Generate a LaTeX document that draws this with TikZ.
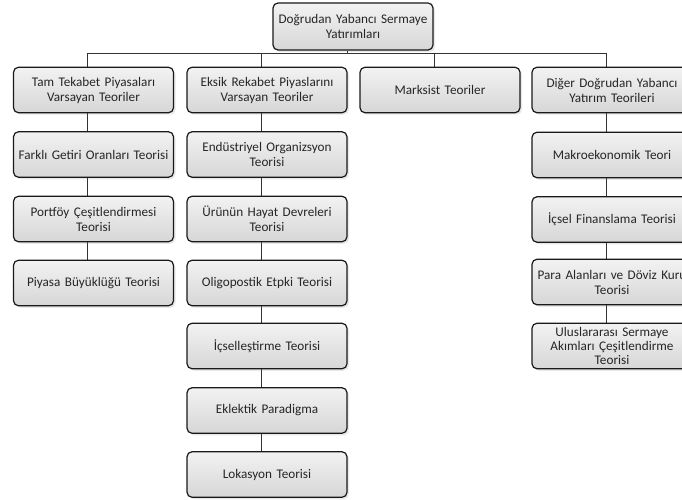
\documentclass[tikz,border=0pt]{standalone}
\usepackage{fontspec}
\setmainfont{Carlito}
\usetikzlibrary{shadows,backgrounds}
\begin{document}
\begin{tikzpicture}[x=1pt,y=-1pt,
  box/.style={draw=black!90, line width=1.2pt, rounded corners=5pt,
    top color=gray!10, bottom color=gray!32,
    drop shadow={opacity=0.18, shadow xshift=2pt, shadow yshift=-2pt},
    minimum width=160pt, minimum height=45.5pt, inner sep=0pt,
    text width=158pt, align=center, text=black!85,
    font=\fontsize{13.2pt}{15pt}\selectfont},
  conn/.style={draw=black!80, line width=1pt}]
\useasboundingbox (0,0) rectangle (682,500);
\node[box, minimum height=47pt] (root) at (353,26.5) {Doğrudan Yabancı Sermaye\\Yatırımları};
% level 1
\node[box] (tam) at (93.5,90) {Tam Tekabet Piyasaları\\Varsayan Teoriler};
\node[box] (eks) at (267,90) {Eksik Rekabet Piyaslarını\\Varsayan Teoriler};
\node[box] (mar) at (440,90) {Marksist Teoriler};
\node[box] (dig) at (612,90) {Diğer Doğrudan Yabancı\\Yatırım Teorileri};
% column 1
\node[box] (far) at (93.5,154.5) {Farklı Getiri Oranları Teorisi};
\node[box] (por) at (93.5,219) {Portföy Çeşitlendirmesi\\Teorisi};
\node[box] (pbt) at (93.5,283) {Piyasa Büyüklüğü Teorisi};
% column 2
\node[box] (end) at (267,154.5) {Endüstriyel Organizsyon\\Teorisi};
\node[box] (uru) at (267,219) {Ürünün Hayat Devreleri\\Teorisi};
\node[box] (oli) at (267,283) {Oligopostik Etpki Teorisi};
\node[box] (ics) at (267,346) {İçselleştirme Teorisi};
\node[box] (ekl) at (267,410.5) {Eklektik Paradigma};
\node[box] (lok) at (267,474.5) {Lokasyon Teorisi};
% column 4
\node[box] (mak) at (612,155) {Makroekonomik Teori};
\node[box] (icf) at (612,219.5) {İçsel Finanslama Teorisi};
\node[box] (par) at (612,282) {Para Alanları ve Döviz Kuru\\Teorisi};
\node[box, font=\fontsize{13.2pt}{13.6pt}\selectfont] (ulu) at (612,346) {Uluslararası Sermaye\\Akımları Çeşitlendirme\\Teorisi};
\coordinate (bus) at (347,53.5);
\begin{pgfonlayer}{background}
\draw[conn] ([xshift=-6pt]root.south) -- (bus);
\draw[conn] ([xshift=-6pt]tam.north) |- (bus) -| ([xshift=-6pt]dig.north);
\draw[conn] ([xshift=-6pt]eks.north) -- ([xshift=-6pt]eks.north |- bus);
\draw[conn] ([xshift=-6pt]mar.north) -- ([xshift=-6pt]mar.north |- bus);
\foreach \a/\b in {tam/far, far/por, por/pbt, eks/end, end/uru, uru/oli, oli/ics, ics/ekl, ekl/lok, dig/mak, mak/icf, icf/par, par/ulu}
  \draw[conn] ([xshift=-6pt]\a.south) -- ([xshift=-6pt]\b.north);
\end{pgfonlayer}
\end{tikzpicture}
\end{document}
